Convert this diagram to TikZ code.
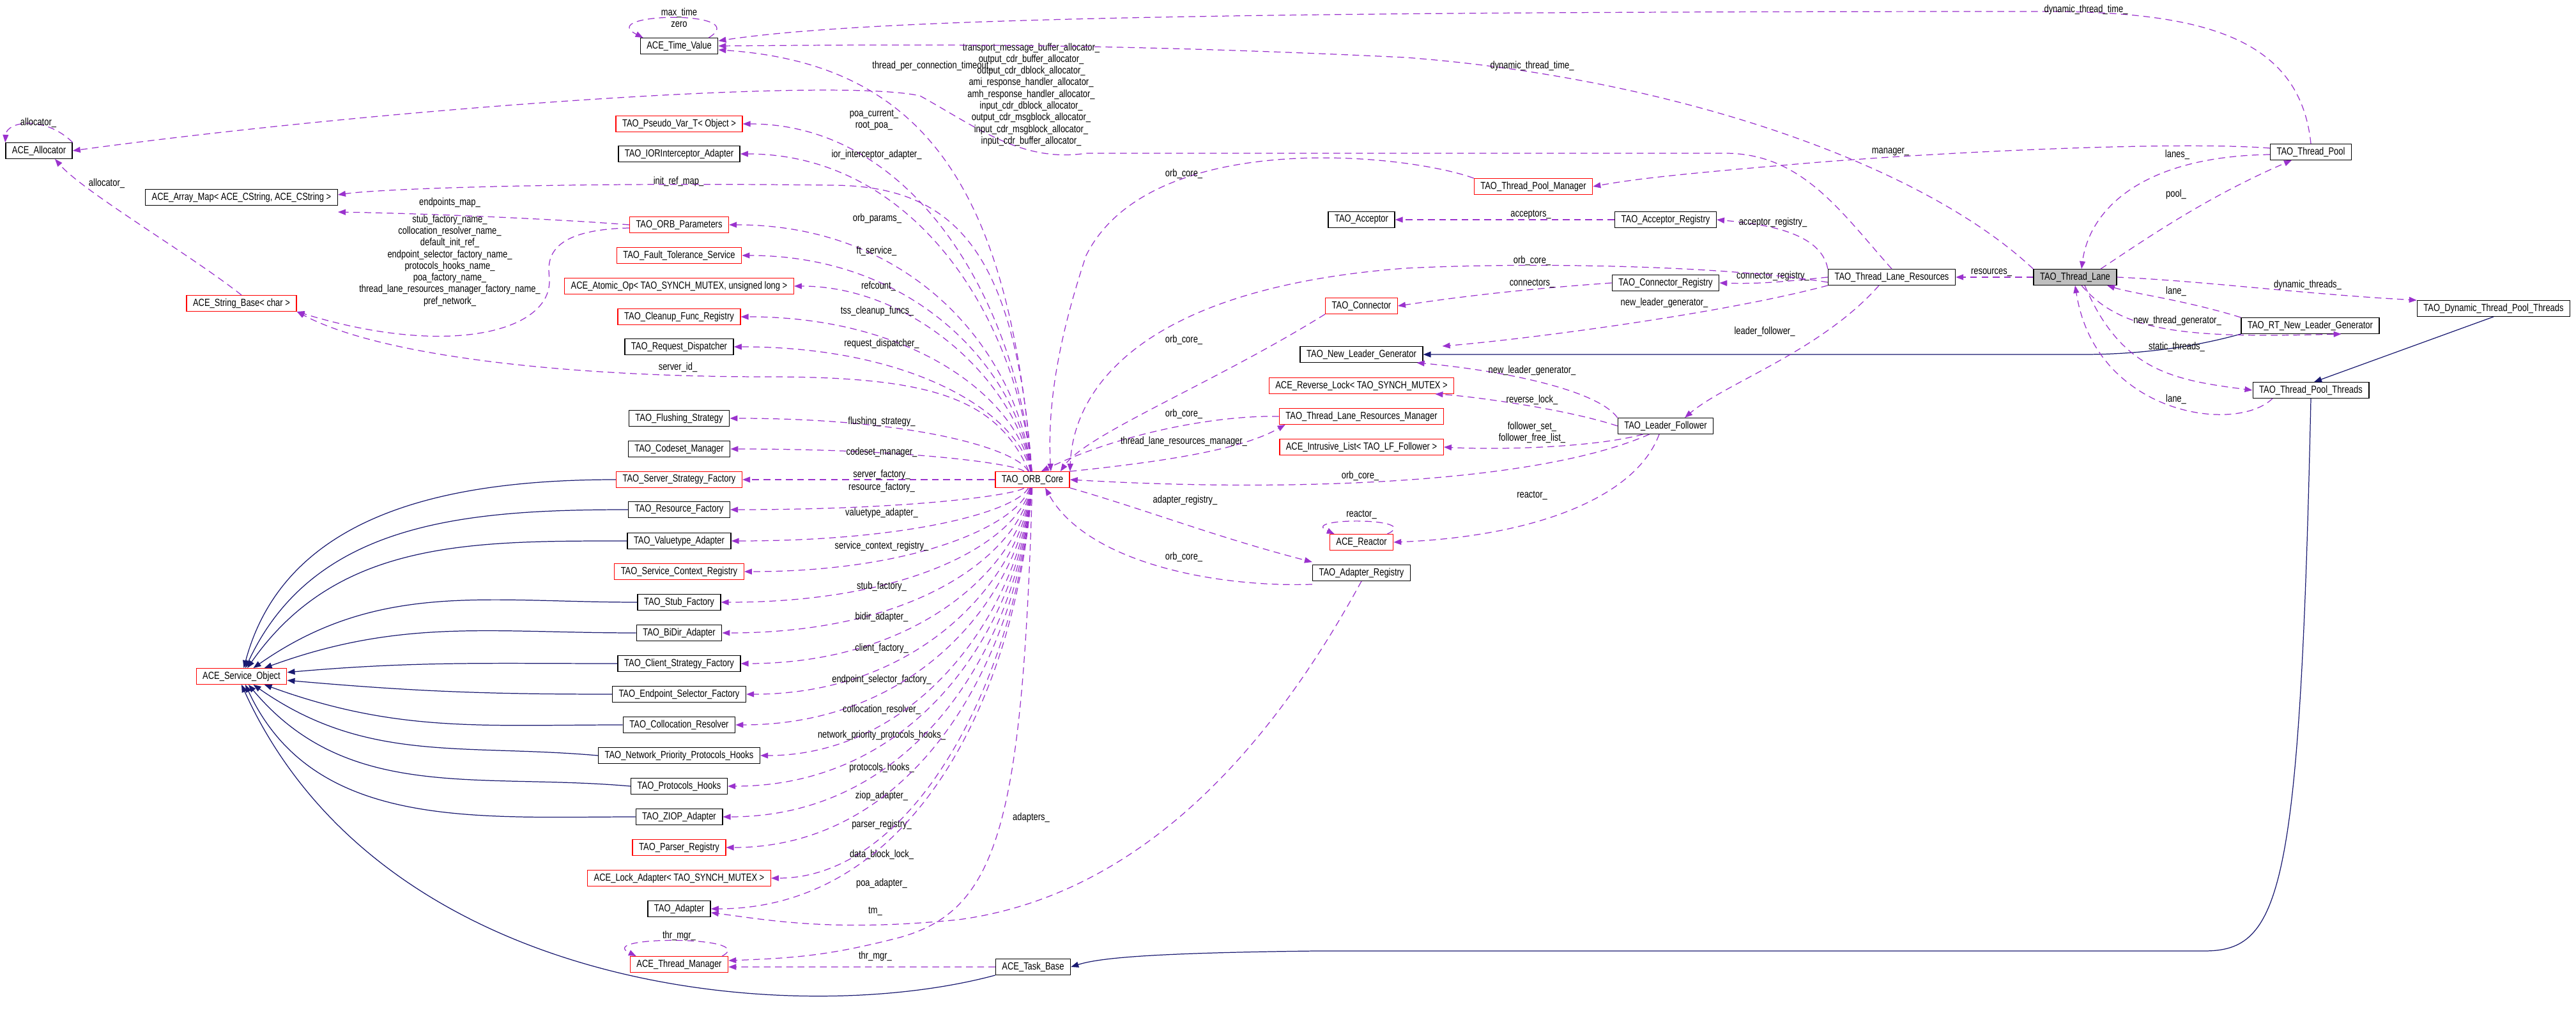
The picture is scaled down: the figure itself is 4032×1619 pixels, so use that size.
\documentclass[tikz,border=0pt]{standalone}
\usepackage{fontspec}
\setmainfont{Liberation Sans}[FakeStretch=0.8]
\usetikzlibrary{arrows.meta}
\definecolor{usec}{HTML}{9A32CD}
\definecolor{inhc}{HTML}{191970}
\newcommand\coreedge[3]{\pgfmathsetmacro\midy{(#2+751)/2}\draw[uses] (core) .. controls (1592,\midy) and (1430,#2) .. (#1.east);\node[lbl] at (1385,#3) {};}
\begin{document}
\begin{tikzpicture}[x=0.01cm,y=-0.01cm,
  cls/.style={draw=black,line width=0.4pt,inner sep=0pt,inner xsep=0.1cm,minimum height=0.245cm,font=\fontsize{4.6}{5}\selectfont,fill=white},
  rcls/.style={cls,draw=red},
  lbl/.style={font=\fontsize{4.6}{5.2}\selectfont,inner sep=0pt,align=center},
  uses/.style={draw=usec,dashed,dash pattern=on 3pt off 2pt,line width=0.35pt,-{Triangle[length=0.12cm,width=0.09cm]}},
  inh/.style={draw=inhc,line width=0.35pt,-{Triangle[length=0.12cm,width=0.09cm]}}]
\useasboundingbox (0,0) rectangle (4032,1619);
% left column
\node[cls] (tv) at (1063,72) {ACE\_Time\_Value};
\node[cls] (alloc) at (61,236) {ACE\_Allocator};
\node[rcls] (pv) at (1063,194) {TAO\_Pseudo\_Var\_T< Object >};
\node[cls] (ior) at (1063,241) {TAO\_IORInterceptor\_Adapter};
\node[cls] (am) at (378,309) {ACE\_Array\_Map< ACE\_CString, ACE\_CString >};
\node[rcls] (op) at (1063,352) {TAO\_ORB\_Parameters};
\node[rcls] (ft) at (1063,400) {TAO\_Fault\_Tolerance\_Service};
\node[rcls] (ao) at (1063,448) {ACE\_Atomic\_Op< TAO\_SYNCH\_MUTEX, unsigned long >};
\node[rcls] (cf) at (1063,496) {TAO\_Cleanup\_Func\_Registry};
\node[cls] (rd) at (1063,543) {TAO\_Request\_Dispatcher};
\node[rcls] (sb) at (378,475) {ACE\_String\_Base< char >};
\node[cls] (fs) at (1063,655) {TAO\_Flushing\_Strategy};
\node[cls] (cm) at (1063,703) {TAO\_Codeset\_Manager};
\node[rcls] (ssf) at (1063,751) {TAO\_Server\_Strategy\_Factory};
\node[cls] (rf) at (1063,798) {TAO\_Resource\_Factory};
\node[cls] (va) at (1063,847) {TAO\_Valuetype\_Adapter};
\node[rcls] (scr) at (1063,895) {TAO\_Service\_Context\_Registry};
\node[cls] (stf) at (1063,943) {TAO\_Stub\_Factory};
\node[cls] (bd) at (1063,991) {TAO\_BiDir\_Adapter};
\node[cls] (csf) at (1063,1039) {TAO\_Client\_Strategy\_Factory};
\node[cls] (esf) at (1063,1087) {TAO\_Endpoint\_Selector\_Factory};
\node[cls] (cr) at (1063,1135) {TAO\_Collocation\_Resolver};
\node[cls] (np) at (1063,1183) {TAO\_Network\_Priority\_Protocols\_Hooks};
\node[cls] (ph) at (1063,1231) {TAO\_Protocols\_Hooks};
\node[cls] (zi) at (1063,1279) {TAO\_ZIOP\_Adapter};
\node[rcls] (pr) at (1063,1327) {TAO\_Parser\_Registry};
\node[rcls] (la) at (1063,1375) {ACE\_Lock\_Adapter< TAO\_SYNCH\_MUTEX >};
\node[cls] (ad) at (1063,1423) {TAO\_Adapter};
\node[rcls] (tm) at (1063,1510) {ACE\_Thread\_Manager};
\node[rcls] (so) at (378,1059) {ACE\_Service\_Object};
% middle
\node[rcls] (core) at (1616,751) {TAO\_ORB\_Core};
\node[cls] (tb) at (1617,1514) {ACE\_Task\_Base};
\node[rcls] (tpm) at (2400,292) {TAO\_Thread\_Pool\_Manager};
\node[cls] (acc) at (2131,344) {TAO\_Acceptor};
\node[cls] (accr) at (2607,344) {TAO\_Acceptor\_Registry};
\node[cls] (conr) at (2607,443) {TAO\_Connector\_Registry};
\node[rcls] (con) at (2131,479) {TAO\_Connector};
\node[cls] (nlg) at (2131,555) {TAO\_New\_Leader\_Generator};
\node[rcls] (rl) at (2131,604) {ACE\_Reverse\_Lock< TAO\_SYNCH\_MUTEX >};
\node[rcls] (tlrm) at (2131,652) {TAO\_Thread\_Lane\_Resources\_Manager};
\node[rcls] (il) at (2131,700) {ACE\_Intrusive\_List< TAO\_LF\_Follower >};
\node[cls] (lf) at (2607,667) {TAO\_Leader\_Follower};
\node[rcls] (re) at (2131,849) {ACE\_Reactor};
\node[cls] (ar) at (2131,897) {TAO\_Adapter\_Registry};
% right
\node[cls] (tp) at (3617,238) {TAO\_Thread\_Pool};
\node[cls] (tlr) at (2961,434) {TAO\_Thread\_Lane\_Resources};
\node[cls,fill=black!25] (tl) at (3248,434) {TAO\_Thread\_Lane};
\node[cls] (dyn) at (3903,483) {TAO\_Dynamic\_Thread\_Pool\_Threads};
\node[cls] (rt) at (3616,510) {TAO\_RT\_New\_Leader\_Generator};
\node[cls] (tpt) at (3617,611) {TAO\_Thread\_Pool\_Threads};

% self loops
\draw[uses] ([xshift=-0.15cm]tv.north east) .. controls (1180,15) and (930,20) .. ([xshift=0.05cm]tv.north west);
\node[lbl] at (1063,28) {max\_time\\zero};
\draw[uses] (alloc.north east) .. controls (70,180) and (10,190) .. (alloc.north west);
\node[lbl] at (60,192) {allocator\_};
\draw[uses] ([xshift=-0.1cm]tm.north east) .. controls (1190,1465) and (930,1465) .. ([xshift=0.1cm]tm.north west);
\node[lbl] at (1063,1465) {thr\_mgr\_};
\draw[uses] ([xshift=-0.1cm]re.north east) .. controls (2230,810) and (2030,810) .. ([xshift=0.08cm]re.north west);
\node[lbl] at (2131,806) {reactor\_};

% ORB core to left column
\draw[uses] (core) .. controls (1580,300) and (1450,100) .. ([yshift=-0.06cm]tv.east);
\node[lbl] at (1460,103) {thread\_per\_connection\_timeout\_};
\coreedge{pv}{194}{0}\node[lbl] at (1368,188) {poa\_current\_\\root\_poa\_};
\coreedge{ior}{241}{0}\node[lbl] at (1372,242) {ior\_interceptor\_adapter\_};
\draw[uses] (core) .. controls (1590,400) and (1500,290) .. (1300,290) .. controls (900,285) and (600,295) .. ([yshift=0.04cm]am.east);
\node[lbl] at (1062,284) {init\_ref\_map\_};
\coreedge{op}{352}{0}\node[lbl] at (1373,342) {orb\_params\_};
\coreedge{ft}{400}{0}\node[lbl] at (1372,393) {ft\_service\_};
\coreedge{ao}{448}{0}\node[lbl] at (1375,448) {refcount\_};
\coreedge{cf}{496}{0}\node[lbl] at (1373,487) {tss\_cleanup\_funcs\_};
\coreedge{rd}{543}{0}\node[lbl] at (1380,538) {request\_dispatcher\_};
\draw[uses] (core) .. controls (1560,620) and (1450,590) .. (1200,590) .. controls (900,590) and (600,560) .. (sb.south east);
\node[lbl] at (1061,575) {server\_id\_};
\coreedge{fs}{655}{0}\node[lbl] at (1380,660) {flushing\_strategy\_};
\coreedge{cm}{703}{0}\node[lbl] at (1380,708) {codeset\_manager\_};
\draw[uses] (core) -- (ssf);
\node[lbl] at (1380,743) {server\_factory\_};
\coreedge{rf}{798}{0}\node[lbl] at (1380,763) {resource\_factory\_};
\coreedge{va}{847}{0}\node[lbl] at (1380,803) {valuetype\_adapter\_};
\coreedge{scr}{895}{0}\node[lbl] at (1380,855) {service\_context\_registry\_};
\coreedge{stf}{943}{0}\node[lbl] at (1380,918) {stub\_factory\_};
\coreedge{bd}{991}{0}\node[lbl] at (1380,966) {bidir\_adapter\_};
\coreedge{csf}{1039}{0}\node[lbl] at (1380,1015) {client\_factory\_};
\coreedge{esf}{1087}{0}\node[lbl] at (1380,1064) {endpoint\_selector\_factory\_};
\coreedge{cr}{1135}{0}\node[lbl] at (1380,1111) {collocation\_resolver\_};
\coreedge{np}{1183}{0}\node[lbl] at (1380,1151) {network\_priority\_protocols\_hooks\_};
\coreedge{ph}{1231}{0}\node[lbl] at (1380,1202) {protocols\_hooks\_};
\coreedge{zi}{1279}{0}\node[lbl] at (1380,1246) {ziop\_adapter\_};
\coreedge{pr}{1327}{0}\node[lbl] at (1380,1291) {parser\_registry\_};
\coreedge{la}{1375}{0}\node[lbl] at (1380,1338) {data\_block\_lock\_};
\coreedge{ad}{1423}{0}\node[lbl] at (1380,1383) {poa\_adapter\_};
\draw[uses] (core) .. controls (1600,1300) and (1560,1430) .. (1400,1470) .. controls (1300,1495) and (1250,1500) .. ([yshift=0.06cm]tm.east);
\node[lbl] at (1370,1427) {tm\_};
\draw[uses] (tb) -- ([yshift=-0.04cm]tm.east);
\node[lbl] at (1370,1497) {thr\_mgr\_};
\draw[uses] (ar.south) .. controls (2000,1150) and (1800,1400) .. (1500,1440) .. controls (1300,1460) and (1200,1440) .. ([yshift=-0.06cm]ad.east);
\node[lbl] at (1614,1280) {adapters\_};

% parameters / string base / allocator
\draw[uses] (op.west) .. controls (900,345) and (700,335) .. ([yshift=-0.1cm]am.south east);
\node[lbl] at (704,317) {endpoints\_map\_};
\draw[uses] ([yshift=-0.05cm]op.west) .. controls (840,360) and (860,420) .. (860,440) .. controls (860,520) and (700,560) .. (sb.south east);
\node[lbl] at (704,408) {stub\_factory\_name\_\\collocation\_resolver\_name\_\\default\_init\_ref\_\\endpoint\_selector\_factory\_name\_\\protocols\_hooks\_name\_\\poa\_factory\_name\_\\thread\_lane\_resources\_manager\_factory\_name\_\\pref\_network\_};
\draw[uses] (sb.north) .. controls (300,400) and (130,300) .. ([xshift=0.25cm]alloc.south);
\node[lbl] at (167,287) {allocator\_};
\draw[uses] (tlr.north) .. controls (2880,330) and (2820,240) .. (2700,240) -- (1700,240) .. controls (1600,255) and (1530,200) .. (1440,150) .. controls (1300,120) and (600,170) .. (alloc.east);
\node[lbl] at (1614,148) {transport\_message\_buffer\_allocator\_\\output\_cdr\_buffer\_allocator\_\\output\_cdr\_dblock\_allocator\_\\ami\_response\_handler\_allocator\_\\amh\_response\_handler\_allocator\_\\input\_cdr\_dblock\_allocator\_\\output\_cdr\_msgblock\_allocator\_\\input\_cdr\_msgblock\_allocator\_\\input\_cdr\_buffer\_allocator\_};

% inheritance to service object
\draw[inh] (ssf.west) to[out=180,in=75] (so);
\draw[inh] (rf.west) to[out=180,in=65] (so);
\draw[inh] (va.west) to[out=180,in=55] (so);
\draw[inh] (stf.west) to[out=180,in=35] (so);
\draw[inh] (bd.west) to[out=180,in=20] (so);
\draw[inh] (csf.west) to[out=180,in=5] (so);
\draw[inh] (esf.west) to[out=180,in=-5] (so);
\draw[inh] (cr.west) to[out=180,in=-20] (so);
\draw[inh] (np.west) to[out=175,in=-35] (so);
\draw[inh] (ph.west) to[out=175,in=-50] (so);
\draw[inh] (zi.west) to[out=180,in=-65] (so);
\draw[inh] (tb.south west) .. controls (1250,1610) and (600,1560) .. (so.south);
\draw[inh] (tpt.south) .. controls (3600,1400) and (3570,1489) .. (3450,1489) -- (2060,1489) .. controls (1800,1492) and (1720,1500) .. (tb.east);
\draw[inh] (dyn.south) -- ([xshift=0.05cm]tpt.north);
\draw[inh] (rt.south west) .. controls (3400,553) and (3300,555) .. (3261,555) -- (nlg.east);

% right side uses
\draw[uses] (tp.north) .. controls (3600,60) and (3450,18) .. (3200,18) .. controls (1900,18) and (1350,30) .. ([yshift=0.08cm]tv.east);
\node[lbl] at (3265,15) {dynamic\_thread\_time\_};
\draw[uses] (tl.north west) .. controls (3000,250) and (2600,120) .. (2200,90) .. controls (1700,66) and (1400,70) .. (tv.east);
\node[lbl] at (2398,103) {dynamic\_thread\_time\_};
\draw[uses] ([yshift=0.06cm]tp.west) .. controls (3400,220) and (3000,240) .. (2800,258) .. controls (2600,275) and (2550,282) .. (tpm.east);
\node[lbl] at (2959,238) {manager\_};
\draw[uses] ([yshift=-0.04cm]tp.west) .. controls (3350,245) and (3270,330) .. ([xshift=0.1cm]tl.north);
\node[lbl] at (3408,242) {lanes\_};
\draw[uses] ([xshift=0.4cm]tl.north) .. controls (3350,380) and (3450,310) .. ([xshift=-0.3cm]tp.south);
\node[lbl] at (3406,304) {pool\_};
\draw[uses] (tl) -- (tlr);
\node[lbl] at (3117,427) {resources\_};
\draw[uses] (tl.east) .. controls (3450,440) and (3600,460) .. (dyn.north west);
\node[lbl] at (3612,446) {dynamic\_threads\_};
\draw[uses] (rt.north west) .. controls (3420,470) and (3340,460) .. ([xshift=0.5cm]tl.south);
\node[lbl] at (3406,456) {lane\_};
\draw[uses] ([xshift=0.1cm]tl.south) .. controls (3320,520) and (3420,530) .. ([xshift=-0.6cm]rt.south east) ;
\node[lbl] at (3408,502) {new\_thread\_generator\_};
\draw[uses] ([xshift=0.15cm]tl.south) .. controls (3320,580) and (3400,595) .. (tpt.west);
\node[lbl] at (3407,543) {static\_threads\_};
\draw[uses] ([xshift=-0.6cm]tpt.south) .. controls (3500,680) and (3280,650) .. (tl.south);
\node[lbl] at (3406,625) {lane\_};
\draw[uses] (tlr.north west) .. controls (2850,360) and (2750,350) .. (accr.east);
\node[lbl] at (2775,348) {acceptor\_registry\_};
\draw[uses] (tlr.west) .. controls (2800,440) and (2760,445) .. (conr.east);
\node[lbl] at (2775,432) {connector\_registry\_};
\draw[uses] ([yshift=-0.08cm]tlr.west) .. controls (2700,416) and (2400,410) .. (2200,420) .. controls (1800,450) and (1680,600) .. (core.north east);
\node[lbl] at (2398,408) {orb\_core\_};
\draw[uses] (tlr.south west) .. controls (2700,490) and (2400,530) .. ([xshift=0.3cm]nlg.north east);
\node[lbl] at (2605,474) {new\_leader\_generator\_};
\draw[uses] ([xshift=-0.2cm]tlr.south) .. controls (2850,550) and (2700,600) .. ([xshift=0.3cm]lf.north);
\node[lbl] at (2762,519) {leader\_follower\_};
\draw[uses] (accr) -- (acc);
\node[lbl] at (2396,336) {acceptors\_};
\draw[uses] (conr.west) .. controls (2350,455) and (2250,470) .. (con.east);
\node[lbl] at (2398,444) {connectors\_};
\draw[uses] (con.south west) .. controls (1900,600) and (1700,680) .. ([xshift=-0.15cm]core.north east);
\node[lbl] at (1853,532) {orb\_core\_};
\draw[uses] (tpm.north west) .. controls (2200,240) and (1800,200) .. (1700,400) .. controls (1650,550) and (1640,650) .. ([xshift=-0.3cm]core.north east);
\node[lbl] at (1853,272) {orb\_core\_};
\draw[uses] (lf.north west) .. controls (2500,610) and (2350,580) .. ([xshift=-0.1cm]nlg.south east);
\node[lbl] at (2398,580) {new\_leader\_generator\_};
\draw[uses] (lf.west) .. controls (2450,640) and (2300,620) .. ([xshift=-0.3cm]rl.south east);
\node[lbl] at (2398,626) {reverse\_lock\_};
\draw[uses] ([xshift=0.4cm]lf.south west) .. controls (2500,700) and (2350,705) .. (il.east);
\node[lbl] at (2398,677) {follower\_set\_\\follower\_free\_list\_};
\draw[uses] ([xshift=0.5cm]lf.south west) .. controls (2400,760) and (2000,770) .. (core.east);
\node[lbl] at (2129,745) {orb\_core\_};
\draw[uses] ([xshift=-0.1cm]lf.south) .. controls (2560,780) and (2400,840) .. (re.east);
\node[lbl] at (2398,776) {reactor\_};
\draw[uses] (tlrm.west) .. controls (1900,650) and (1750,680) .. ([xshift=-0.45cm]core.north east);
\node[lbl] at (1853,648) {orb\_core\_};
\draw[uses] (core.north east) .. controls (1850,720) and (1950,700) .. ([xshift=0.1cm]tlrm.south west);
\node[lbl] at (1853,691) {thread\_lane\_resources\_manager\_};
\draw[uses] (core.south east) .. controls (1800,800) and (1900,840) .. ([yshift=0.04cm]ar.north west);
\node[lbl] at (1855,783) {adapter\_registry\_};
\draw[uses] ([yshift=-0.05cm]ar.south west) .. controls (1900,920) and (1700,880) .. ([xshift=0.2cm]core.south);
\node[lbl] at (1853,872) {orb\_core\_};
\end{tikzpicture}
\end{document}
